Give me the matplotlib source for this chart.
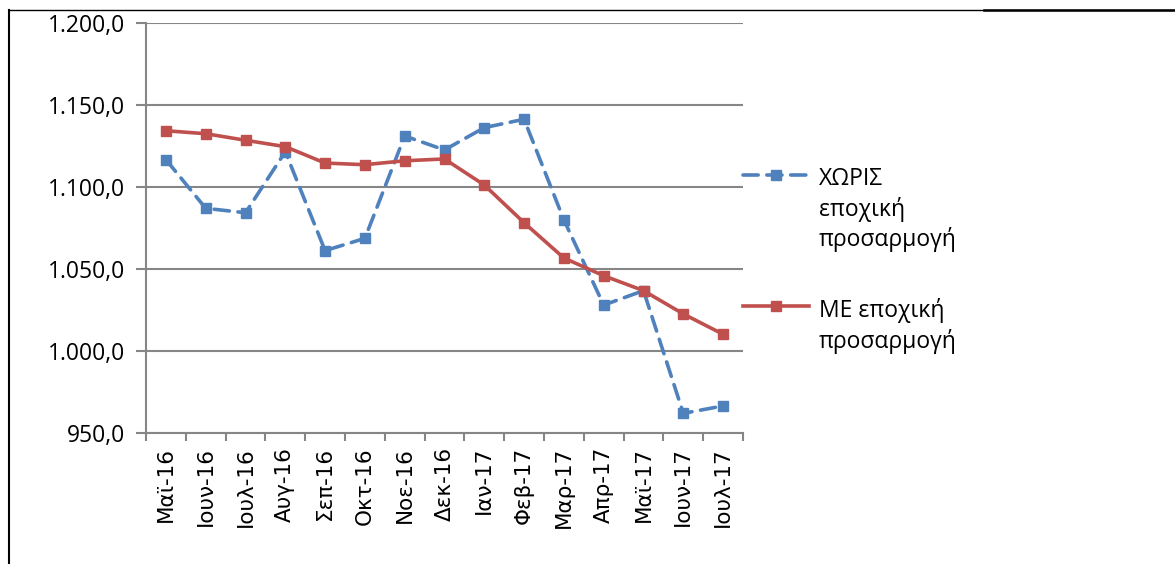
import matplotlib
matplotlib.use("Agg")
from matplotlib import pyplot as plt
from matplotlib.lines import Line2D
from matplotlib.ticker import FuncFormatter, FixedLocator
import numpy as np

# data
months = ["Μαϊ-16", "Ιουν-16", "Ιουλ-16", "Αυγ-16", "Σεπ-16", "Οκτ-16", "Νοε-16",
          "Δεκ-16", "Ιαν-17", "Φεβ-17", "Μαρ-17", "Απρ-17", "Μαϊ-17", "Ιουν-17", "Ιουλ-17"]
without_sa = [1116.7, 1087.0, 1084.3, 1121.5, 1061.2, 1068.7, 1131.1, 1122.6,
              1136.2, 1141.3, 1079.9, 1028.0, 1036.8, 962.0, 966.5]
with_sa = [1134.3, 1132.5, 1128.5, 1124.6, 1114.6, 1113.6, 1116.0, 1117.1,
           1101.2, 1078.2, 1056.7, 1045.9, 1036.8, 1022.6, 1010.2]
label_without = "ΧΩΡΙΣ\nεποχική\nπροσαρμογή"
label_with = "ΜΕ εποχική\nπροσαρμογή"

W, H = 1175, 564
fig = plt.figure(figsize=(W / 100, H / 100), dpi=100)
ax = fig.add_axes([146 / W, 1 - 433 / H, (743 - 146) / W, (433 - 23) / H])

grey = "#868686"
blue = "#4F81BD"
red = "#C0504D"
uifont = ["Open Sans", "DejaVu Sans"]

x = np.arange(len(months))
ax.plot(x, without_sa, color=blue, lw=2.6, dashes=(4.2, 2.4), marker="s",
        markersize=7, label=label_without, zorder=3, dash_capstyle="round")
ax.plot(x, with_sa, color=red, lw=2.6, marker="s", markersize=7,
        label=label_with, zorder=4)

ax.set_ylim(950, 1200)
ax.set_yticks(np.arange(950, 1201, 50))
ax.yaxis.set_major_formatter(FuncFormatter(
    lambda v, p: f"{v:,.1f}".replace(",", "X").replace(".", ",").replace("X", ".")))
ax.set_xlim(-0.5, len(months) - 0.5)
ax.set_xticks(x)
ax.set_xticklabels(months, rotation=90, fontsize=15.5, family="DejaVu Sans")
ax.xaxis.set_minor_locator(FixedLocator(np.arange(-0.5, len(months), 1.0)))
ax.tick_params(axis="x", which="major", length=0, pad=10)
ax.tick_params(axis="x", which="minor", length=6, width=1.5, color=grey)
ax.tick_params(axis="y", length=7, width=1.5, color=grey, pad=8)
for t in ax.get_yticklabels():
    t.set_family(uifont)
    t.set_fontsize(16.5)

ax.grid(axis="y", color=grey, lw=1.5)
ax.set_axisbelow(True)
for s in ["top", "right"]:
    ax.spines[s].set_visible(False)
for s in ["left", "bottom"]:
    ax.spines[s].set_color(grey)
    ax.spines[s].set_linewidth(1.5)

leg = ax.legend(loc="upper left", bbox_to_anchor=(743 / W, 1 - 167 / H),
                bbox_transform=fig.transFigure, frameon=False, borderpad=0,
                borderaxespad=0, handlelength=2.9, handletextpad=0.4,
                labelspacing=2.0, prop={"family": uifont, "size": 16.5})
for t in leg.get_texts():
    t.set_linespacing(1.3)
# put the key next to the first line of each label
for col in leg._legend_handle_box.get_children():
    for row in col.get_children():
        row.align = "top"

# outer frame
fig.add_artist(Line2D([9 / W, 9 / W], [0, 1 - 10 / H], color="black", lw=1.5))
fig.add_artist(Line2D([9 / W, 1], [1 - 10 / H, 1 - 10 / H], color="black", lw=1.0))
fig.add_artist(Line2D([984 / W, 1], [1 - 10 / H, 1 - 10 / H], color="black", lw=1.8))

plt.savefig("out.png", dpi=100)
